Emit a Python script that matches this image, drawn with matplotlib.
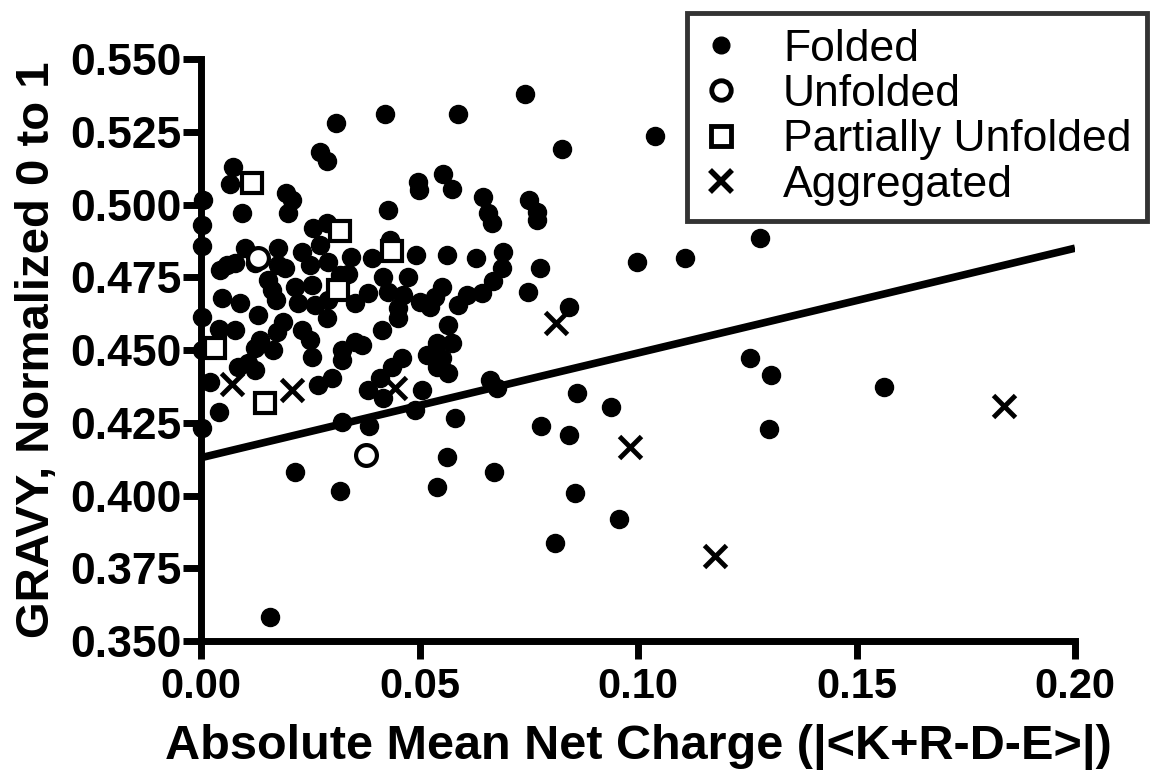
import matplotlib.pyplot as plt
from matplotlib.lines import Line2D

# Folded proteins
folded_x = [0.0310, 0.0421, 0.0589, 0.0741, 0.0825, 0.1039, 0.0272, 0.0288, 0.0074, 0.0066,
            0.0194, 0.0208, 0.0200, 0.0093, 0.0005, 0.0002, 0.0002, 0.0257, 0.0288, 0.0272,
            0.0428, 0.0432, 0.0497, 0.0499, 0.0554, 0.0574, 0.0646, 0.0657, 0.0665, 0.0751,
            0.0768, 0.0768, 0.1279, 0.0101, 0.0176, 0.0232, 0.0343, 0.0291, 0.0078, 0.0043,
            0.0391, 0.0491, 0.0562, 0.0629, 0.0692, 0.0688, 0.0997, 0.1107, 0.0776, 0.0059,
            0.0124, 0.0177, 0.0154, 0.0162, 0.0047, 0.0089, 0.0131, 0.0215, 0.0253, 0.0223,
            0.0261, 0.0291, 0.0288, 0.0337, 0.0352, 0.0002, 0.0040, 0.0078, 0.0188, 0.0173,
            0.0135, 0.0124, 0.0165, 0.0230, 0.0249, 0.0253, 0.0322, 0.0322, 0.0352, 0.0368,
            0.0002, 0.0085, 0.0108, 0.0124, 0.0021, 0.0268, 0.0299, 0.0040, 0.0002, 0.0322,
            0.0417, 0.0474, 0.0383, 0.0429, 0.0463, 0.0451, 0.0451, 0.0501, 0.0524, 0.0551,
            0.0535, 0.0589, 0.0608, 0.0642, 0.0669, 0.0749, 0.0413, 0.0566, 0.0539, 0.0574,
            0.0516, 0.0551, 0.0539, 0.0566, 0.0459, 0.0436, 0.0410, 0.0383, 0.0417, 0.0505,
            0.0490, 0.0661, 0.0677, 0.0581, 0.0384, 0.0562, 0.0215, 0.0318, 0.0539, 0.0670,
            0.0158, 0.0842, 0.1256, 0.1305, 0.1562, 0.0860, 0.0939, 0.0777, 0.0843, 0.1300,
            0.0856, 0.0957, 0.0809, 0.0172, 0.0192, 0.0249, 0.0318]
folded_y = [0.528, 0.531, 0.531, 0.538, 0.519, 0.5235, 0.518, 0.515, 0.513, 0.507,
            0.504, 0.5015, 0.497, 0.497, 0.5015, 0.4929, 0.4857, 0.4918, 0.4938, 0.4861,
            0.4981, 0.4878, 0.5078, 0.505, 0.5106, 0.5055, 0.5027, 0.4972, 0.4935, 0.5015,
            0.4975, 0.4947, 0.4884, 0.4852, 0.485, 0.4838, 0.482, 0.4802, 0.4798, 0.4775,
            0.4816, 0.4826, 0.4826, 0.4816, 0.4838, 0.4783, 0.4803, 0.4815, 0.4781, 0.4792,
            0.4798, 0.4792, 0.474, 0.4706, 0.4678, 0.466, 0.462, 0.4717, 0.4723, 0.466,
            0.4655, 0.4672, 0.4609, 0.4763, 0.466, 0.4614, 0.4574, 0.4569, 0.4597, 0.4563,
            0.4534, 0.4506, 0.450, 0.4569, 0.4534, 0.4477, 0.450, 0.4466, 0.4528, 0.4517,
            0.450, 0.4443, 0.4454, 0.4431, 0.4391, 0.438, 0.4403, 0.4288, 0.4231, 0.4251,
            0.4752, 0.4752, 0.4695, 0.470, 0.4689, 0.4643, 0.4609, 0.4666, 0.4649, 0.4717,
            0.4683, 0.4655, 0.4689, 0.4695, 0.4737, 0.470, 0.4569, 0.4586, 0.4523, 0.4523,
            0.4483, 0.4471, 0.4443, 0.442, 0.4471, 0.4443, 0.4403, 0.4362, 0.4334, 0.4362,
            0.4294, 0.4397, 0.4368, 0.4265, 0.4239, 0.4131, 0.4082, 0.4016, 0.403, 0.4082,
            0.3583, 0.4649, 0.4471, 0.4414, 0.4372, 0.4351, 0.4305, 0.4239, 0.4208, 0.4227,
            0.4008, 0.3918, 0.3838, 0.4672, 0.4782, 0.4792, 0.4758]

# Unfolded
unfolded_x = [0.0131, 0.0378]
unfolded_y = [0.4818, 0.4139]

# Partially unfolded
partial_x = [0.0116, 0.0318, 0.0436, 0.0314, 0.0032, 0.0146]
partial_y = [0.5073, 0.4909, 0.4840, 0.4706, 0.4506, 0.4317]

# Aggregated
agg_x = [0.0070, 0.0208, 0.0444, 0.0812, 0.0982, 0.1177, 0.1837]
agg_y = [0.4385, 0.4363, 0.4368, 0.4594, 0.4168, 0.3792, 0.4308]

# linear fit end points
fit_x = [0.0, 0.20]
fit_y = [0.413, 0.485]

x_ticks = [0.00, 0.05, 0.10, 0.15, 0.20]
y_ticks = [0.350, 0.375, 0.400, 0.425, 0.450, 0.475, 0.500, 0.525, 0.550]

plt.rcParams['font.family'] = ['Liberation Sans', 'DejaVu Sans']

fig = plt.figure(figsize=(11.5, 7.77), dpi=100)
ax = fig.add_axes([0.1748, 0.175, 0.760, 0.749])

ax.plot(fit_x, fit_y, color='black', lw=5.5, solid_capstyle='butt', zorder=2)
ax.plot(folded_x, folded_y, 'o', color='black', ms=13, ls='none', clip_on=False, zorder=3)
ax.plot(unfolded_x, unfolded_y, 'o', mfc='white', mec='black', mew=3, ms=15, ls='none',
        clip_on=False, zorder=4)
ax.plot(partial_x, partial_y, 's', mfc='white', mec='black', mew=3, ms=14, ls='none',
        clip_on=False, zorder=4)
ax.plot(agg_x, agg_y, 'x', color='black', mew=3.5, ms=16, ls='none', clip_on=False, zorder=4)

ax.set_xlim(0, 0.20)
ax.set_ylim(0.35, 0.55)
ax.set_xticks(x_ticks)
ax.set_xticklabels(['%.2f' % v for v in x_ticks])
ax.set_yticks(y_ticks)
ax.set_yticklabels(['%.3f' % v for v in y_ticks])

for s in ['top', 'right']:
    ax.spines[s].set_visible(False)
for s in ['left', 'bottom']:
    ax.spines[s].set_linewidth(5)
ax.tick_params(axis='both', width=5, length=13, direction='out')
ax.tick_params(axis='x', pad=6, labelsize=30)
ax.tick_params(axis='y', pad=1, labelsize=32)
for lab in ax.get_xticklabels() + ax.get_yticklabels():
    lab.set_fontweight('bold')

ax.set_xlabel('Absolute Mean Net Charge (|<K+R-D-E>|)', fontsize=35, fontweight='bold', labelpad=12)
ax.set_ylabel('GRAVY, Normalized 0 to 1', fontsize=34, fontweight='bold', labelpad=8)

handles = [
    Line2D([], [], marker='o', color='black', ls='none', ms=12),
    Line2D([], [], marker='o', mfc='white', mec='black', mew=3.5, ls='none', ms=14),
    Line2D([], [], marker='s', mfc='white', mec='black', mew=3.5, ls='none', ms=14),
    Line2D([], [], marker='x', color='black', mew=4, ls='none', ms=16),
]
labels = ['Folded', 'Unfolded', 'Partially Unfolded', 'Aggregated']
leg = fig.legend(handles, labels, loc='upper right', bbox_to_anchor=(1147 / 1150, 1 - 13 / 777),
                 fontsize=32, frameon=True, fancybox=False, edgecolor='black',
                 borderpad=0.35, labelspacing=0.1, handlelength=0.8, handletextpad=1.0,
                 borderaxespad=0)
leg.get_frame().set_linewidth(3.5)

fig.savefig('out.png', dpi=100)
